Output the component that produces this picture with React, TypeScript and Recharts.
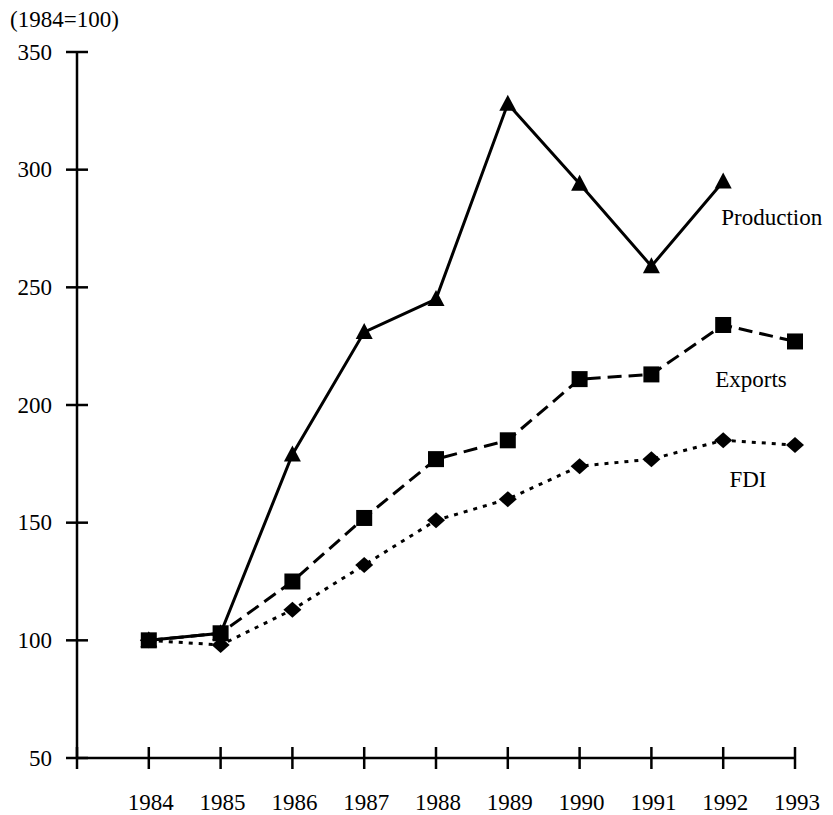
import React from "react";
import { LineChart, Line, XAxis, YAxis, LabelList } from "recharts";

const years = [1984, 1985, 1986, 1987, 1988, 1989, 1990, 1991, 1992, 1993];
const production = [100, 103, 179, 231, 245, 328, 294, 259, 295, null];
const exportsIdx = [100, 103, 125, 152, 177, 185, 211, 213, 234, 227];
const fdi = [100, 98, 113, 132, 151, 160, 174, 177, 185, 183];
const yTicks = [50, 100, 150, 200, 250, 300, 350];
const xTicks = [1983, 1984, 1985, 1986, 1987, 1988, 1989, 1990, 1991, 1992, 1993];

const data = years.map((y, i) => ({
  year: y,
  production: production[i],
  exports: exportsIdx[i],
  fdi: fdi[i],
}));

const FONT = "'Liberation Serif', 'Times New Roman', serif";
const FS = 23;

const YTick = (props: any) => {
  const { x, y, payload } = props;
  return (
    <g>
      <line x1={x - 11} x2={x + 11} y1={y} y2={y} stroke="#000" strokeWidth={2.5} />
      <text x={x - 25} y={y} textAnchor="end" dominantBaseline="central" fontFamily={FONT} fontSize={FS} fill="#000">
        {payload.value}
      </text>
    </g>
  );
};

const XTick = (props: any) => {
  const { x, y, payload } = props;
  return (
    <g>
      <line x1={x} x2={x} y1={y - 11} y2={y + 11} stroke="#000" strokeWidth={2.5} />
      {payload.value >= 1984 && (
        <text x={x + 2} y={y + 44} textAnchor="middle" dominantBaseline="central" fontFamily={FONT} fontSize={FS} fill="#000">
          {payload.value}
        </text>
      )}
    </g>
  );
};

const TriangleDot = (props: any) => {
  const { cx, cy, index } = props;
  if (cx == null || cy == null || props.value == null) return <g key={`t${index}`} />;
  return (
    <polygon
      key={`t${index}`}
      points={`${cx},${cy - 9} ${cx - 8.5},${cy + 7} ${cx + 8.5},${cy + 7}`}
      fill="#000"
    />
  );
};

const SquareDot = (props: any) => {
  const { cx, cy, index } = props;
  if (cx == null || cy == null) return <g key={`s${index}`} />;
  return <rect key={`s${index}`} x={cx - 8} y={cy - 8} width={16} height={16} fill="#000" />;
};

const DiamondDot = (props: any) => {
  const { cx, cy, index } = props;
  if (cx == null || cy == null) return <g key={`d${index}`} />;
  return (
    <polygon
      key={`d${index}`}
      points={`${cx},${cy - 8} ${cx + 9},${cy} ${cx},${cy + 8} ${cx - 9},${cy}`}
      fill="#000"
    />
  );
};

const makeLabel = (idx: number, text: string, dx: number, dy: number, anchor: string) => (props: any) => {
  if (props.index !== idx) return null;
  return (
    <text
      x={props.x + dx}
      y={props.y + dy}
      textAnchor={anchor}
      dominantBaseline="central"
      fontFamily={FONT}
      fontSize={FS}
      fill="#000"
    >
      {text}
    </text>
  );
};

export default function App() {
  return (
    <div style={{ position: "relative", width: 825, height: 807 }}>
      <style>{"html{overflow:hidden;}"}</style>
      <div
        style={{
          position: "absolute",
          left: 2,
          top: 0,
          fontFamily: FONT,
          fontSize: FS,
          lineHeight: `${FS}px`,
          color: "#000",
          whiteSpace: "nowrap",
        }}
      >
        (1984=100)
      </div>
      <LineChart
        width={825}
        height={807}
        data={data}
        margin={{ top: 44, right: 38, left: 19, bottom: 27 }}
        style={{ overflow: "visible" }}
      >
        <XAxis
          dataKey="year"
          type="number"
          domain={[1983, 1993]}
          ticks={xTicks}
          interval={0}
          height={30}
          axisLine={{ stroke: "#000", strokeWidth: 2.5 }}
          tickLine={false}
          tickSize={0}
          tickMargin={0}
          tick={<XTick />}
        />
        <YAxis
          type="number"
          domain={[50, 350]}
          ticks={yTicks}
          interval={0}
          width={50}
          axisLine={{ stroke: "#000", strokeWidth: 2.5 }}
          tickLine={false}
          tickSize={0}
          tickMargin={0}
          tick={<YTick />}
        />
        <Line
          dataKey="production"
          stroke="#000"
          strokeWidth={3}
          dot={<TriangleDot />}
          activeDot={false}
          isAnimationActive={false}
        >
          <LabelList dataKey="production" content={makeLabel(8, "Production", 99, 36, "end")} />
        </Line>
        <Line
          dataKey="exports"
          stroke="#000"
          strokeWidth={3}
          strokeDasharray="14 7"
          dot={<SquareDot />}
          activeDot={false}
          isAnimationActive={false}
        >
          <LabelList dataKey="exports" content={makeLabel(9, "Exports", -44, 38, "middle")} />
        </Line>
        <Line
          dataKey="fdi"
          stroke="#000"
          strokeWidth={3}
          strokeDasharray="4 6"
          dot={<DiamondDot />}
          activeDot={false}
          isAnimationActive={false}
        >
          <LabelList dataKey="fdi" content={makeLabel(9, "FDI", -47, 34, "middle")} />
        </Line>
      </LineChart>
    </div>
  );
}
